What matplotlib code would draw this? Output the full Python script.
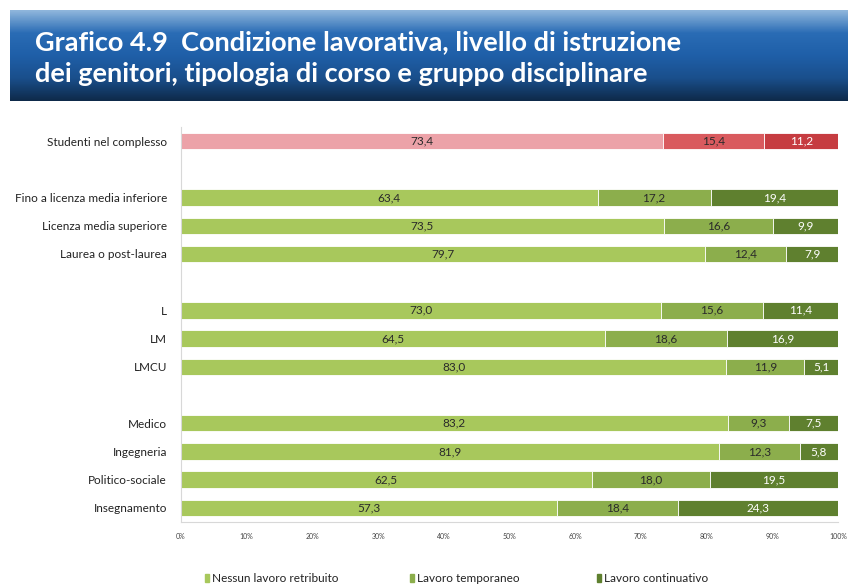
import matplotlib
matplotlib.use("Agg")
import matplotlib.pyplot as plt
import numpy as np
from matplotlib.patches import Rectangle
from matplotlib.colors import LinearSegmentedColormap

categories = ["Studenti nel complesso", "",
              "Fino a licenza media inferiore", "Licenza media superiore", "Laurea o post-laurea", "",
              "L", "LM", "LMCU", "",
              "Medico", "Ingegneria", "Politico-sociale", "Insegnamento"]
nessun = [73.4, None, 63.4, 73.5, 79.7, None, 73.0, 64.5, 83.0, None, 83.2, 81.9, 62.5, 57.3]
temporaneo = [15.4, None, 17.2, 16.6, 12.4, None, 15.6, 18.6, 11.9, None, 9.3, 12.3, 18.0, 18.4]
continuativo = [11.2, None, 19.4, 9.9, 7.9, None, 11.4, 16.9, 5.1, None, 7.5, 5.8, 19.5, 24.3]
series_names = ["Nessun lavoro retribuito", "Lavoro temporaneo", "Lavoro continuativo"]
xticks = [0, 10, 20, 30, 40, 50, 60, 70, 80, 90, 100]
title_lines = ["Grafico 4.9  Condizione lavorativa, livello di istruzione",
               "dei genitori, tipologia di corso e gruppo disciplinare"]

green = ["#a8c85c", "#8cae4c", "#5f802f"]
red = ["#eca2a8", "#d95a5e", "#c63c41"]
txt_dark = "#2a2a2a"

FONT = ["Lato", "DejaVu Sans"]

fig = plt.figure(figsize=(8.48, 5.88), dpi=100)

# banner
bax = fig.add_axes([10/848, 1-101/588, 838/848, 91/588])
grad = np.linspace(0, 1, 100).reshape(-1, 1)
cmap = LinearSegmentedColormap.from_list("b", ["#8fb6dc", "#2a6cb5", "#1f5fa8", "#1a4f8c", "#0e2a4a"])
bax.imshow(grad, aspect="auto", cmap=cmap, extent=[0, 1, 0, 1], origin="upper")
bax.set_xlim(0, 1); bax.set_ylim(0, 1)
bax.axis("off")
fig.text(35/848, 1-42/588, title_lines[0], color="white", fontsize=19.5, fontweight="bold",
         family=FONT, va="center", ha="left")
fig.text(35/848, 1-74/588, title_lines[1], color="white", fontsize=19.5, fontweight="bold",
         family=FONT, va="center", ha="left")

ax = fig.add_axes([181/848, 1-522/588, 657/848, 395/588])
h = 0.58
for i, cat in enumerate(categories):
    if nessun[i] is None:
        continue
    cols = red if i == 0 else green
    vals = [nessun[i], temporaneo[i], continuativo[i]]
    left = 0
    for j, v in enumerate(vals):
        ax.barh(i, v, left=left, height=h, color=cols[j], edgecolor="white", linewidth=0.6)
        tc = "white" if j == 2 else txt_dark
        ax.text(left + v/2, i, f"{v:.1f}".replace(".", ","), ha="center", va="center",
                fontsize=8.5, color=tc, family=FONT)
        left += v

ax.set_ylim(len(categories) - 0.5, -0.5)
ax.set_xlim(0, 100)
ax.set_yticks([i for i, c in enumerate(categories) if c])
ax.set_yticklabels([c for c in categories if c], fontsize=8.5, family=FONT, color="#222222")
ax.set_xticks(xticks)
ax.set_xticklabels([f"{t}%" for t in xticks], fontsize=5, family=FONT, color="#444444")
ax.tick_params(axis="y", length=0, pad=10)
ax.tick_params(axis="x", length=0, pad=8)
for s in ["top", "right"]:
    ax.spines[s].set_visible(False)
ax.spines["left"].set_color("#d8d8d8")
ax.spines["bottom"].set_color("#d8d8d8")
ax.spines["left"].set_linewidth(0.8)
ax.spines["bottom"].set_linewidth(0.8)

# legend
leg_x = [205, 410, 597]
for x, name, c in zip(leg_x, series_names, green):
    fig.patches.append(Rectangle((x/848, 1-582/588), 4/848, 8/588, transform=fig.transFigure,
                                 color=c))
    fig.text((x+7)/848, 1-578/588, name, fontsize=8.5, family=FONT, color="#222222",
             va="center", ha="left")

fig.savefig("out.png", dpi=100)
